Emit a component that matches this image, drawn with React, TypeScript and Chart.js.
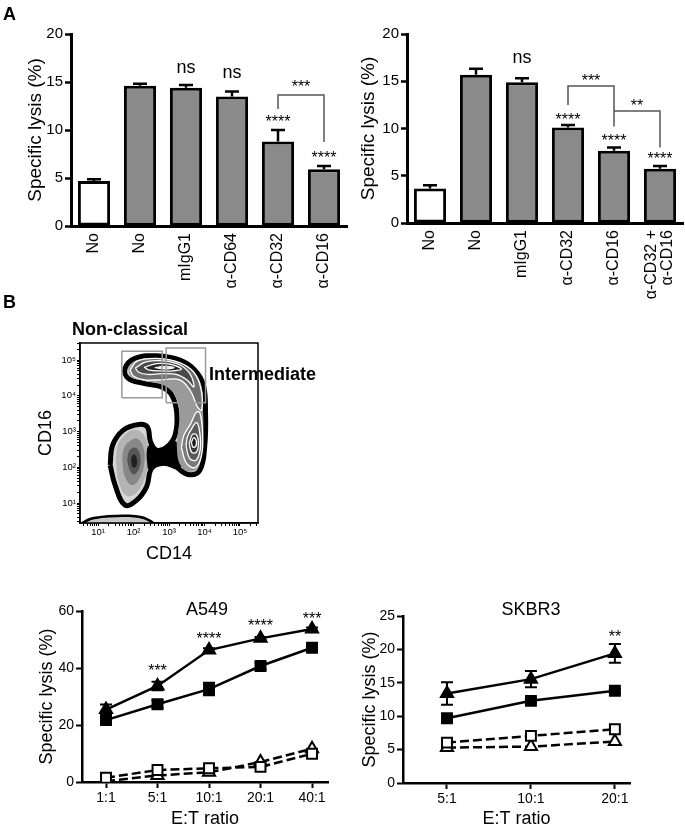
import React, { useEffect, useRef } from 'react';
import { Chart, registerables } from 'chart.js';

Chart.register(...registerables);

const FONT = "'Liberation Sans', Arial, Helvetica, sans-serif";

// ---------------- Panel A, left bar chart ----------------
const aLeftCategories: (string | string[])[] = ['No', 'No', 'mIgG1', 'α-CD64', 'α-CD32', 'α-CD16'];
const aLeftValues = [4.7, 14.6, 14.4, 13.5, 8.8, 5.9];
const aLeftErrors = [0.18, 0.22, 0.28, 0.5, 1.2, 0.35];
const aLeftMarks = [
  { x: 2, y: 16.45, text: 'ns' },
  { x: 3, y: 15.9, text: 'ns' },
  { x: 4, y: 11.2, text: '****' },
  { x: 5, y: 7.5, text: '****' },
];
const aLeftBrackets = [{ from: 4, to: 5, top: 13.65, fromY: 12.2, toY: 8.75, text: '***', textY: 14.9 }];

// ---------------- Panel A, right bar chart ----------------
const aRightCategories: (string | string[])[] = ['No', 'No', 'mIgG1', 'α-CD32', 'α-CD16', ['α-CD32 +', 'α-CD16']];
const aRightValues = [3.65, 15.7, 14.9, 10.1, 7.65, 5.75];
const aRightErrors = [0.35, 0.63, 0.42, 0.28, 0.35, 0.28];
const aRightMarks = [
  { x: 2, y: 17.5, text: 'ns' },
  { x: 3, y: 11.3, text: '****' },
  { x: 4, y: 9.15, text: '****' },
  { x: 5, y: 7.2, text: '****' },
];
const aRightBrackets = [
  { from: 3, to: 4, top: 14.5, fromY: 12.5, toY: 10.2, text: '***', textY: 15.4 },
  { from: 4, to: 5, top: 11.85, fromY: 11.85, toY: 8.0, text: '**', textY: 12.8 },
];

// ---------------- Panel B, flow plot (log10 units) ----------------
const flowDecades = [1, 2, 3, 4, 5];
const flowOuter: [number, number][] = [
  [1.34, 2.06], [1.48, 1.5], [1.76, 0.94], [2.09, 1.08], [2.37, 1.46], [2.51, 1.97], [2.84, 2.11],
  [3.17, 2.02], [3.54, 1.8], [3.87, 1.92], [4.01, 2.62], [4.03, 3.55], [3.97, 4.3], [3.73, 4.72],
  [3.31, 5.0], [2.65, 5.12], [2.04, 5.05], [1.76, 4.77], [1.85, 4.49], [2.28, 4.35], [2.79, 4.25],
  [3.08, 4.02], [3.22, 3.51], [3.17, 2.9], [2.94, 2.57], [2.65, 2.48], [2.48, 2.71], [2.39, 3.13],
  [2.14, 3.2], [1.71, 3.04], [1.41, 2.62],
];
const flowBottomEdge: [number, number][] = [[0.49, 0.4], [0.8, 0.56], [1.3, 0.63], [1.9, 0.64], [2.3, 0.58], [2.55, 0.4]];
const flowLeftLevel1: [number, number][] = [[1.5, 2.2], [1.58, 1.6], [1.8, 1.2], [2.1, 1.3], [2.35, 1.8], [2.42, 2.4], [2.3, 2.9], [2.0, 3.05], [1.7, 2.85], [1.55, 2.6]];
const flowLeftLevel2: [number, number][] = [[1.68, 2.2], [1.75, 1.75], [1.95, 1.5], [2.15, 1.65], [2.3, 2.1], [2.28, 2.55], [2.1, 2.8], [1.85, 2.7], [1.72, 2.5]];
const flowLeftLevel3: [number, number][] = [[1.82, 2.2], [1.9, 1.9], [2.02, 1.8], [2.15, 1.95], [2.2, 2.25], [2.12, 2.5], [1.98, 2.55], [1.86, 2.42]];
const flowLeftLevel4: [number, number][] = [[1.93, 2.18], [1.98, 2.0], [2.07, 2.02], [2.1, 2.2], [2.04, 2.35], [1.96, 2.32]];
const flowBridge: [number, number][] = [[2.4, 1.95], [2.6, 2.0], [2.85, 2.05], [3.1, 2.0], [3.4, 2.05], [3.35, 2.45], [3.15, 2.75], [2.95, 2.6], [2.7, 2.5], [2.5, 2.65], [2.38, 2.5]];
const flowHook: [number, number][] = [
  [1.85, 4.75], [2.05, 4.98], [2.65, 5.05], [3.3, 4.93], [3.7, 4.66], [3.92, 4.25], [3.96, 3.55],
  [3.95, 2.65], [3.83, 2.0], [3.55, 1.88], [3.3, 2.1], [3.22, 2.6], [3.25, 2.95], [3.3, 3.5],
  [3.15, 4.05], [2.82, 4.32], [2.3, 4.42], [1.92, 4.55],
];
const flowRightLevel1: [number, number][] = [[3.35, 2.55], [3.5, 2.1], [3.75, 2.0], [3.92, 2.35], [3.95, 2.9], [3.88, 3.5], [3.78, 3.55], [3.6, 3.2], [3.42, 2.9]];
const flowRightLevel2: [number, number][] = [[3.48, 2.6], [3.58, 2.25], [3.76, 2.2], [3.88, 2.5], [3.87, 2.95], [3.78, 3.25], [3.62, 3.05], [3.52, 2.85]];
const flowRightLevel3: [number, number][] = [[3.57, 2.65], [3.64, 2.42], [3.77, 2.42], [3.83, 2.65], [3.78, 2.9], [3.66, 2.92]];
const flowRightLevel4: [number, number][] = [[3.63, 2.7], [3.68, 2.56], [3.76, 2.6], [3.77, 2.74], [3.7, 2.83]];
const flowTopLevel1: [number, number][] = [[1.9, 4.72], [2.1, 4.97], [2.65, 5.05], [3.3, 4.93], [3.7, 4.66], [3.9, 4.2], [3.92, 3.6], [3.8, 3.7], [3.6, 4.15], [3.3, 4.45], [2.8, 4.45], [2.3, 4.45], [2.0, 4.55]];
const flowTopLevel2: [number, number][] = [[2.05, 4.78], [2.35, 4.95], [2.85, 4.98], [3.3, 4.87], [3.6, 4.6], [3.7, 4.25], [3.5, 4.45], [3.2, 4.6], [2.8, 4.62], [2.4, 4.6], [2.15, 4.66]];
const flowTopLevel3: [number, number][] = [[2.3, 4.8], [2.65, 4.9], [3.05, 4.88], [3.35, 4.75], [3.1, 4.7], [2.75, 4.7], [2.45, 4.72]];
const flowTopLevel4: [number, number][] = [[2.6, 4.79], [2.9, 4.83], [3.15, 4.79], [2.9, 4.75]];
const flowGateNonClassical: [number, number][] = [[1.67, 3.95], [2.81, 3.95], [2.81, 5.25], [1.67, 5.25]];
const flowGateIntermediate: [number, number][] = [[2.92, 3.81], [4.03, 3.81], [4.03, 5.34], [2.92, 5.34]];

// ---------------- Panel B, A549 line chart ----------------
const a549Categories = ['1:1', '5:1', '10:1', '20:1', '40:1'];
const a549FilledTriangle = [25.4, 33.7, 46.3, 50.4, 53.7];
const a549FilledTriangleErr = [1.8, 1.5, 0.6, 0.5, 0.5];
const a549FilledSquare = [21.7, 27.3, 32.6, 40.7, 47.1];
const a549FilledSquareErr = [0.8, 1.4, 2.2, 1.2, 0.6];
const a549OpenSquare = [1.5, 4.2, 4.8, 5.3, 9.9];
const a549OpenTriangle = [0.3, 2.3, 3.4, 7.0, 11.7];
const a549Marks = [
  { x: 1, y: 40.5, text: '***' },
  { x: 2, y: 51.5, text: '****' },
  { x: 3, y: 56.1, text: '****' },
  { x: 4, y: 58.5, text: '***' },
];

// ---------------- Panel B, SKBR3 line chart ----------------
const skbr3Categories = ['5:1', '10:1', '20:1'];
const skbr3FilledTriangle = [13.4, 15.55, 19.4];
const skbr3FilledTriangleErr = [1.7, 1.2, 1.4];
const skbr3FilledSquare = [9.7, 12.3, 13.8];
const skbr3FilledSquareErr = [0.6, 0.3, 0.3];
const skbr3OpenSquare = [6.05, 7.05, 8.05];
const skbr3OpenTriangle = [5.3, 5.45, 6.2];
const skbr3Marks = [{ x: 2, y: 22.4, text: '**' }];

// ---------------- layout ----------------
type Rect = { left: number; top: number; w: number; h: number };
type Area = { l: number; t: number; r: number; b: number };

const RECT_A_LEFT: Rect = { left: 0, top: 0, w: 350, h: 310 };
const AREA_A_LEFT: Area = { l: 71, t: 34, r: 347, b: 226 };
const RECT_A_RIGHT: Rect = { left: 340, top: 0, w: 345, h: 310 };
const AREA_A_RIGHT: Area = { l: 407, t: 34, r: 683, b: 223 };
const RECT_FLOW: Rect = { left: 0, top: 330, w: 300, h: 240 };
const AREA_FLOW: Area = { l: 80, t: 343, r: 258, b: 523 };
const RECT_A549: Rect = { left: 0, top: 595, w: 340, h: 235 };
const AREA_A549: Area = { l: 82, t: 611, r: 328, b: 782 };
const RECT_SKBR3: Rect = { left: 345, top: 595, w: 340, h: 235 };
const AREA_SKBR3: Area = { l: 403, t: 616, r: 630, b: 783 };

function fitLayout(rect: Rect, area: Area) {
  const yWidth = area.l - rect.left;
  const xHeight = rect.top + rect.h - area.b;
  const zeroPad = (s: any) => {
    s.paddingTop = 0;
    s.paddingBottom = 0;
    s.paddingLeft = 0;
    s.paddingRight = 0;
  };
  return {
    padding: { top: area.t - rect.top, right: rect.left + rect.w - area.r, left: 0, bottom: 0 },
    yFit: (s: any) => {
      s.width = yWidth;
      zeroPad(s);
    },
    xFit: (s: any) => {
      s.height = xHeight;
      zeroPad(s);
    },
  };
}

const overlayPlugin: any = {
  id: 'overlay',
  beforeDatasetsDraw(chart: any, _a: any, opts: any) {
    const { ctx } = chart;
    const ys = chart.scales.y;
    (opts.errorBars || []).forEach((eb: any) => {
      const meta = chart.getDatasetMeta(eb.dataset);
      const data = chart.data.datasets[eb.dataset].data;
      ctx.save();
      ctx.strokeStyle = '#000';
      ctx.lineWidth = eb.lineWidth;
      eb.errors.forEach((e: number, i: number) => {
        if (!e) return;
        const d = data[i];
        const v = typeof d === 'number' ? d : d.y;
        const x = meta.data[i].x;
        const yt = ys.getPixelForValue(v + e);
        const yb = ys.getPixelForValue(eb.both ? v - e : v);
        ctx.beginPath();
        ctx.moveTo(x, yb);
        ctx.lineTo(x, yt);
        ctx.moveTo(x - eb.cap, yt);
        ctx.lineTo(x + eb.cap, yt);
        if (eb.both) {
          ctx.moveTo(x - eb.cap, yb);
          ctx.lineTo(x + eb.cap, yb);
        }
        ctx.stroke();
      });
      ctx.restore();
    });
  },
  afterDatasetsDraw(chart: any, _a: any, opts: any) {
    const { ctx, chartArea } = chart;
    const xs = chart.scales.x;
    const ys = chart.scales.y;
    ctx.save();
    if (opts.frame) {
      ctx.strokeStyle = '#000';
      ctx.lineWidth = opts.frame;
      ctx.strokeRect(chartArea.left, chartArea.top, chartArea.right - chartArea.left, chartArea.bottom - chartArea.top);
    }
    const drawText = (text: string, x: number, y: number, size: number) => {
      ctx.font = `${size}px ${FONT}`;
      ctx.fillStyle = '#000';
      ctx.textAlign = 'center';
      ctx.textBaseline = 'alphabetic';
      const m = ctx.measureText(text);
      const base = y + (m.actualBoundingBoxAscent - m.actualBoundingBoxDescent) / 2;
      ctx.fillText(text, x, base);
    };
    (opts.marks || []).forEach((mk: any) =>
      drawText(mk.text, xs.getPixelForValue(mk.x), ys.getPixelForValue(mk.y), mk.text === 'ns' ? opts.nsSize : opts.starSize)
    );
    (opts.brackets || []).forEach((b: any) => {
      const x1 = xs.getPixelForValue(b.from);
      const x2 = xs.getPixelForValue(b.to);
      const yt = ys.getPixelForValue(b.top);
      ctx.strokeStyle = '#555';
      ctx.lineWidth = 1.5;
      ctx.beginPath();
      ctx.moveTo(x1, ys.getPixelForValue(b.fromY));
      ctx.lineTo(x1, yt);
      ctx.lineTo(x2, yt);
      ctx.lineTo(x2, ys.getPixelForValue(b.toY));
      ctx.stroke();
      drawText(b.text, (x1 + x2) / 2, ys.getPixelForValue(b.textY), opts.starSize);
    });
    // rotated category labels (lines centred on their tick)
    if (opts.xLabels) {
      const { labels, size, pad } = opts.xLabels;
      ctx.font = `${size}px ${FONT}`;
      ctx.fillStyle = '#000';
      ctx.textAlign = 'right';
      ctx.textBaseline = 'middle';
      labels.forEach((lab: any, i: number) => {
        const lines = Array.isArray(lab) ? lab : [lab];
        const x = xs.getPixelForValue(i);
        ctx.save();
        ctx.translate(x, chartArea.bottom + pad);
        ctx.rotate(-Math.PI / 2);
        lines.forEach((ln: string, j: number) => {
          ctx.fillText(ln, 0, (j - (lines.length - 1) / 2) * size * 1.0);
        });
        ctx.restore();
      });
    }
    ctx.restore();
  },
};

function barConfig(cats: any[], values: number[], errors: number[], marks: any[], brackets: any[], rect: Rect, area: Area, titlePad: number) {
  const L = fitLayout(rect, area);
  return {
    type: 'bar',
    data: {
      labels: cats,
      datasets: [
        {
          data: values,
          backgroundColor: values.map((_, i) => (i === 0 ? '#ffffff' : '#8a8a8a')),
          borderColor: '#000',
          borderWidth: 3,
          borderSkipped: false,
          categoryPercentage: 1,
          barPercentage: 0.7,
        },
      ],
    },
    options: {
      responsive: false,
      animation: false,
      devicePixelRatio: 1,
      layout: { padding: L.padding },
      plugins: {
        legend: { display: false },
        tooltip: { enabled: false },
        overlay: {
          errorBars: [{ dataset: 0, errors, both: false, lineWidth: 2.5, cap: 7 }],
          marks,
          brackets,
          nsSize: 18,
          starSize: 16,
          xLabels: { labels: cats, size: 16, pad: 7 },
        },
      },
      scales: {
        x: {
          type: 'category',
          grid: { display: false, drawTicks: false },
          border: { display: true, color: '#000', width: 3 },
          ticks: { display: false },
          afterFit: L.xFit,
        },
        y: {
          min: 0,
          max: 20,
          ticks: { stepSize: 5, color: '#000', font: { family: FONT, size: 15 }, padding: 2 },
          grid: { drawOnChartArea: false, drawTicks: true, tickLength: 6, tickWidth: 2.5, tickColor: '#000' },
          border: { display: true, color: '#000', width: 3 },
          title: { display: true, text: 'Specific lysis (%)', color: '#000', font: { family: FONT, size: 19 }, padding: { top: titlePad, bottom: 0 } },
          afterFit: L.yFit,
        },
      },
    },
    plugins: [overlayPlugin],
  };
}

function lineSeries(values: number[], shape: 'tri' | 'sq', filled: boolean, dashed: boolean) {
  return {
    data: values.map((v, i) => ({ x: i, y: v })),
    borderColor: '#000',
    borderWidth: 2.5,
    borderDash: dashed ? [9, 4] : [],
    pointStyle: shape === 'tri' ? 'triangle' : 'rect',
    pointRadius: 7,
    pointBackgroundColor: filled ? '#000' : '#fff',
    pointBorderColor: '#000',
    pointBorderWidth: 2,
    tension: 0,
    fill: false,
  };
}

function lineConfig(
  cats: string[],
  series: any[],
  errorBars: any[],
  marks: any[],
  yMax: number,
  yStep: number,
  xMin: number,
  xMax: number,
  rect: Rect,
  area: Area,
  titlePad: number
) {
  const L = fitLayout(rect, area);
  return {
    type: 'line',
    data: { datasets: series },
    options: {
      responsive: false,
      animation: false,
      devicePixelRatio: 1,
      layout: { padding: L.padding },
      plugins: {
        legend: { display: false },
        tooltip: { enabled: false },
        overlay: { errorBars, marks, starSize: 16, nsSize: 16 },
      },
      scales: {
        x: {
          type: 'linear',
          min: xMin,
          max: xMax,
          afterBuildTicks: (s: any) => {
            s.ticks = cats.map((_, i) => ({ value: i }));
          },
          ticks: { autoSkip: false, maxRotation: 0, color: '#000', font: { family: FONT, size: 14 }, padding: 2, callback: (v: any) => cats[v] ?? '' },
          grid: { drawOnChartArea: false, drawTicks: true, tickLength: 6, tickWidth: 2, tickColor: '#000' },
          border: { display: true, color: '#000', width: 2.5 },
          title: { display: true, text: 'E:T ratio', color: '#000', font: { family: FONT, size: 18 }, padding: { top: 0, bottom: 0 } },
          afterFit: L.xFit,
        },
        y: {
          min: 0,
          max: yMax,
          ticks: { stepSize: yStep, color: '#000', font: { family: FONT, size: 14 }, padding: 2 },
          grid: { drawOnChartArea: false, drawTicks: true, tickLength: 6, tickWidth: 2, tickColor: '#000' },
          border: { display: true, color: '#000', width: 2.5 },
          title: { display: true, text: 'Specific lysis (%)', color: '#000', font: { family: FONT, size: 18 }, padding: { top: titlePad, bottom: 0 } },
          afterFit: L.yFit,
        },
      },
    },
    plugins: [overlayPlugin],
  };
}

function polygon(pts: [number, number][], fill: string | null, border: string | null, bw: number, tension = 0.4) {
  const data = pts.map(([x, y]) => ({ x, y }));
  data.push({ x: pts[0][0], y: pts[0][1] });
  return {
    data,
    showLine: true,
    pointRadius: 0,
    borderColor: border || 'rgba(0,0,0,0)',
    borderWidth: border ? bw : 0.01,
    backgroundColor: fill || 'rgba(0,0,0,0)',
    fill: fill ? 'shape' : false,
    tension,
  };
}

const SUPERS = ['⁰', '¹', '²', '³', '⁴', '⁵'];

function flowConfig(rect: Rect, area: Area) {
  const L = fitLayout(rect, area);
  const layersBottomToTop = [
    polygon(flowBottomEdge, '#c8c8c8', '#000', 2.5),
    polygon(flowOuter, '#d6d6d6', '#000', 5),
    polygon(flowLeftLevel1, '#b4b4b4', null, 0),
    polygon(flowLeftLevel2, '#888888', null, 0),
    polygon(flowLeftLevel3, '#555555', null, 0),
    polygon(flowLeftLevel4, '#222222', null, 0),
    polygon(flowBridge, '#000000', null, 0),
    polygon(flowHook, '#9a9a9a', null, 0),
    polygon(flowRightLevel1, '#7a7a7a', '#ffffff', 1.3),
    polygon(flowRightLevel2, '#5a5a5a', '#ffffff', 1.3),
    polygon(flowRightLevel3, '#3a3a3a', '#ffffff', 1.3),
    polygon(flowRightLevel4, '#1a1a1a', '#ffffff', 1.3),
    polygon(flowTopLevel1, '#707070', '#ffffff', 1.3),
    polygon(flowTopLevel2, '#4a4a4a', '#ffffff', 1.3),
    polygon(flowTopLevel3, '#262626', '#ffffff', 1.3),
    polygon(flowTopLevel4, '#eeeeee', '#ffffff', 1),
    polygon(flowGateNonClassical, null, '#9a9a9a', 1.5, 0),
    polygon(flowGateIntermediate, null, '#9a9a9a', 1.5, 0),
  ];
  const logTicks = (s: any) => {
    const t: any[] = [];
    for (let d = 0; d <= 5; d++) {
      for (let k = 1; k <= 9; k++) {
        const v = d + Math.log10(k);
        if (v >= s.min && v <= s.max) t.push({ value: v });
      }
    }
    s.ticks = t;
  };
  const tickLabel = (v: any) => (Number.isInteger(v) && flowDecades.includes(v) ? '10' + SUPERS[v] : '');
  return {
    type: 'scatter',
    data: { datasets: layersBottomToTop.slice().reverse() },
    options: {
      responsive: false,
      animation: false,
      devicePixelRatio: 1,
      layout: { padding: L.padding },
      plugins: { legend: { display: false }, tooltip: { enabled: false }, overlay: { frame: 1.5 } },
      scales: {
        x: {
          type: 'linear',
          min: 0.49,
          max: 5.51,
          afterBuildTicks: logTicks,
          ticks: { autoSkip: false, maxRotation: 0, color: '#000', font: { family: FONT, size: 9.5 }, padding: 1, callback: tickLabel },
          grid: { drawOnChartArea: false, drawTicks: true, tickLength: 3, tickWidth: 1, tickColor: '#000' },
          border: { display: true, color: '#000', width: 1.5 },
          title: { display: true, text: 'CD14', color: '#000', font: { family: FONT, size: 18 }, padding: { top: 0, bottom: 5 } },
          afterFit: L.xFit,
        },
        y: {
          type: 'linear',
          min: 0.44,
          max: 5.48,
          afterBuildTicks: logTicks,
          ticks: { autoSkip: false, color: '#000', font: { family: FONT, size: 9.5 }, padding: 1, callback: tickLabel },
          grid: { drawOnChartArea: false, drawTicks: true, tickLength: 3, tickWidth: 1, tickColor: '#000' },
          border: { display: true, color: '#000', width: 1.5 },
          title: { display: true, text: 'CD16', color: '#000', font: { family: FONT, size: 18 }, padding: { top: 35, bottom: 0 } },
          afterFit: L.yFit,
        },
      },
    },
    plugins: [overlayPlugin],
  };
}

function ChartCanvas({ rect, make }: { rect: Rect; make: () => any }) {
  const ref = useRef<HTMLCanvasElement>(null);
  useEffect(() => {
    const chart = new Chart(ref.current as HTMLCanvasElement, make());
    return () => chart.destroy();
  }, []);
  return (
    <canvas
      ref={ref}
      width={rect.w}
      height={rect.h}
      style={{ position: 'absolute', left: rect.left, top: rect.top, width: rect.w, height: rect.h }}
    />
  );
}

function Label({ text, left, top, size = 18, bold = false, center = false }: any) {
  const style: any = {
    position: 'absolute',
    top,
    fontSize: size,
    lineHeight: 1,
    fontWeight: bold ? 'bold' : 'normal',
    whiteSpace: 'nowrap',
    fontFamily: FONT,
    color: '#000',
  };
  if (center) {
    style.left = left - 60;
    style.width = 120;
    style.textAlign = 'center';
  } else {
    style.left = left;
  }
  return <div style={style}>{text}</div>;
}

export default function App() {
  return (
    <div style={{ position: 'absolute', left: 0, top: 0, width: 685, height: 830, background: '#fff', overflow: 'hidden' }}>
      <ChartCanvas
        rect={RECT_A_LEFT}
        make={() => barConfig(aLeftCategories, aLeftValues, aLeftErrors, aLeftMarks, aLeftBrackets, RECT_A_LEFT, AREA_A_LEFT, 24)}
      />
      <ChartCanvas
        rect={RECT_A_RIGHT}
        make={() => barConfig(aRightCategories, aRightValues, aRightErrors, aRightMarks, aRightBrackets, RECT_A_RIGHT, AREA_A_RIGHT, 17)}
      />
      <ChartCanvas rect={RECT_FLOW} make={() => flowConfig(RECT_FLOW, AREA_FLOW)} />
      <ChartCanvas
        rect={RECT_A549}
        make={() =>
          lineConfig(
            a549Categories,
            [
              lineSeries(a549FilledTriangle, 'tri', true, false),
              lineSeries(a549FilledSquare, 'sq', true, false),
              lineSeries(a549OpenSquare, 'sq', false, true),
              lineSeries(a549OpenTriangle, 'tri', false, true),
            ],
            [
              { dataset: 0, errors: a549FilledTriangleErr, both: true, lineWidth: 2, cap: 6 },
              { dataset: 1, errors: a549FilledSquareErr, both: true, lineWidth: 2, cap: 6 },
            ],
            a549Marks,
            60,
            20,
            -0.466,
            4.31,
            RECT_A549,
            AREA_A549,
            36
          )
        }
      />
      <ChartCanvas
        rect={RECT_SKBR3}
        make={() =>
          lineConfig(
            skbr3Categories,
            [
              lineSeries(skbr3FilledTriangle, 'tri', true, false),
              lineSeries(skbr3FilledSquare, 'sq', true, false),
              lineSeries(skbr3OpenSquare, 'sq', false, true),
              lineSeries(skbr3OpenTriangle, 'tri', false, true),
            ],
            [
              { dataset: 0, errors: skbr3FilledTriangleErr, both: true, lineWidth: 2, cap: 6 },
              { dataset: 1, errors: skbr3FilledSquareErr, both: true, lineWidth: 2, cap: 6 },
            ],
            skbr3Marks,
            25,
            5,
            -0.524,
            2.18,
            RECT_SKBR3,
            AREA_SKBR3,
            14
          )
        }
      />
      <Label text="A" left={3} top={5} bold />
      <Label text="B" left={3} top={293} bold />
      <Label text="Non-classical" left={72} top={320} bold />
      <Label text="Intermediate" left={209} top={365} bold />
      <Label text="A549" left={207} top={600} center />
      <Label text="SKBR3" left={531} top={600} center />
    </div>
  );
}
